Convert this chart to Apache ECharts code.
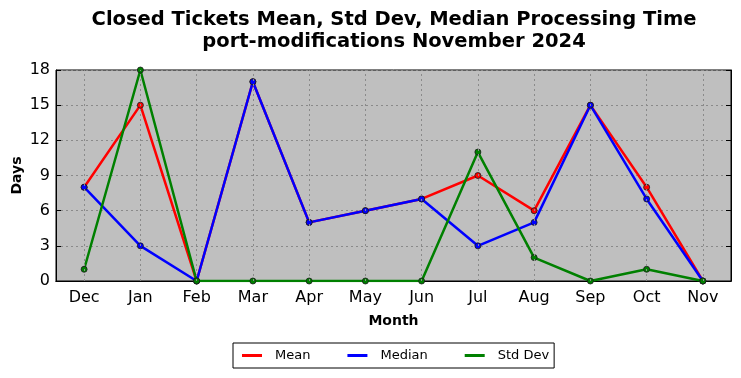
<!DOCTYPE html>
<html><head><meta charset="utf-8">
<script src="https://cdn.jsdelivr.net/npm/echarts@6/dist/echarts.min.js"></script>
<style>html,body{margin:0;padding:0;background:#fff}#c{width:741px;height:378px}</style>
</head><body><div id="c"></div>
<script>
const months = ['Dec','Jan','Feb','Mar','Apr','May','Jun','Jul','Aug','Sep','Oct','Nov'];
const meanVals = [8, 15, 0, 17, 5, 6, 7, 9, 6, 15, 8, 0];
const medianVals = [8, 3, 0, 17, 5, 6, 7, 3, 5, 15, 7, 0];
const stdVals = [1, 18, 0, 0, 0, 0, 0, 11, 2, 0, 1, 0];
const yTicks = [0, 3, 6, 9, 12, 15, 18];

const F = 'DejaVu Sans';
const chart = echarts.init(document.getElementById('c'));
const gridLine = { color: '#8a8a8a', type: [2, 3], width: 1 };
function mk(name, data, color) {
  return {
    name, type: 'line', data, symbol: 'circle', symbolSize: 6, z: 3,
    lineStyle: { color, width: 2.5 },
    itemStyle: { color, borderColor: '#1a1a1a', borderWidth: 0.8 },
    emphasis: { disabled: true }, animation: false
  };
}
chart.setOption({
  backgroundColor: '#fff',
  animation: false,
  title: {
    text: 'Closed Tickets Mean, Std Dev, Median Processing Time\nport-modifications November 2024',
    left: 389, top: 4, textAlign: 'center',
    textStyle: { fontFamily: F, fontSize: 19.5, fontWeight: 'bold', color: '#000', lineHeight: 22 }
  },
  legend: {
    top: 343, left: 233,
    data: ['Mean', 'Median', 'Std Dev'],
    icon: 'rect', itemWidth: 20, itemHeight: 3, itemGap: 37,
    itemStyle: { borderWidth: 0 },
    borderColor: '#000', borderWidth: 1, padding: [6, 5, 6, 9],
    textStyle: { fontFamily: F, fontSize: 13, color: '#000', padding: [0, 0, 0, 8] }
  },
  grid: { left: 56, right: 10, top: 70, bottom: 97, containLabel: false, outerBoundsMode: 'none',
          backgroundColor: '#bfbfbf', show: true, borderColor: '#000', borderWidth: 1 },
  xAxis: [{
    type: 'category', data: months, boundaryGap: true,
    name: 'Month', nameLocation: 'middle', nameGap: 33, nameMoveOverlap: false,
    nameTextStyle: { fontFamily: F, fontSize: 14, fontWeight: 'bold', color: '#000' },
    axisLine: { lineStyle: { color: '#000' } },
    axisTick: { inside: true, alignWithLabel: true, length: 5, lineStyle: { color: '#000' } },
    axisLabel: { fontFamily: F, fontSize: 16, color: '#000', margin: 9 },
    splitLine: { show: false }
  }, {
    type: 'category', data: months, boundaryGap: true, position: 'top',
    axisLine: { lineStyle: { color: '#000' } },
    axisTick: { inside: true, alignWithLabel: true, length: 5, lineStyle: { color: '#000' } },
    axisLabel: { show: false }, splitLine: { show: false }
  }],
  yAxis: [{
    type: 'value', min: yTicks[0], max: yTicks[yTicks.length - 1], interval: 3,
    name: 'Days', nameLocation: 'middle', nameGap: 32, nameMoveOverlap: false,
    nameTextStyle: { fontFamily: F, fontSize: 14, fontWeight: 'bold', color: '#000' },
    axisLine: { show: true, lineStyle: { color: '#000' } },
    axisTick: { show: true, inside: true, length: 5, lineStyle: { color: '#000' } },
    axisLabel: { fontFamily: F, fontSize: 16, color: '#000', margin: 6 },
    splitLine: { show: true, lineStyle: gridLine }
  }, {
    type: 'value', min: yTicks[0], max: yTicks[yTicks.length - 1], interval: 3, position: 'right',
    axisLine: { show: true, lineStyle: { color: '#000' } },
    axisTick: { show: true, inside: true, length: 5, lineStyle: { color: '#000' } },
    axisLabel: { show: false }, splitLine: { show: false }
  }],
  series: [
    {
      type: 'line', data: [], z: 1, silent: true,
      markLine: {
        silent: true, symbol: 'none', label: { show: false }, animation: false,
        lineStyle: gridLine, emphasis: { disabled: true },
        data: months.map(m => ({ xAxis: m }))
      }
    },
    mk('Mean', meanVals, '#ff0000'),
    mk('Median', medianVals, '#0000ff'),
    mk('Std Dev', stdVals, '#008000')
  ]
});
</script></body></html>
